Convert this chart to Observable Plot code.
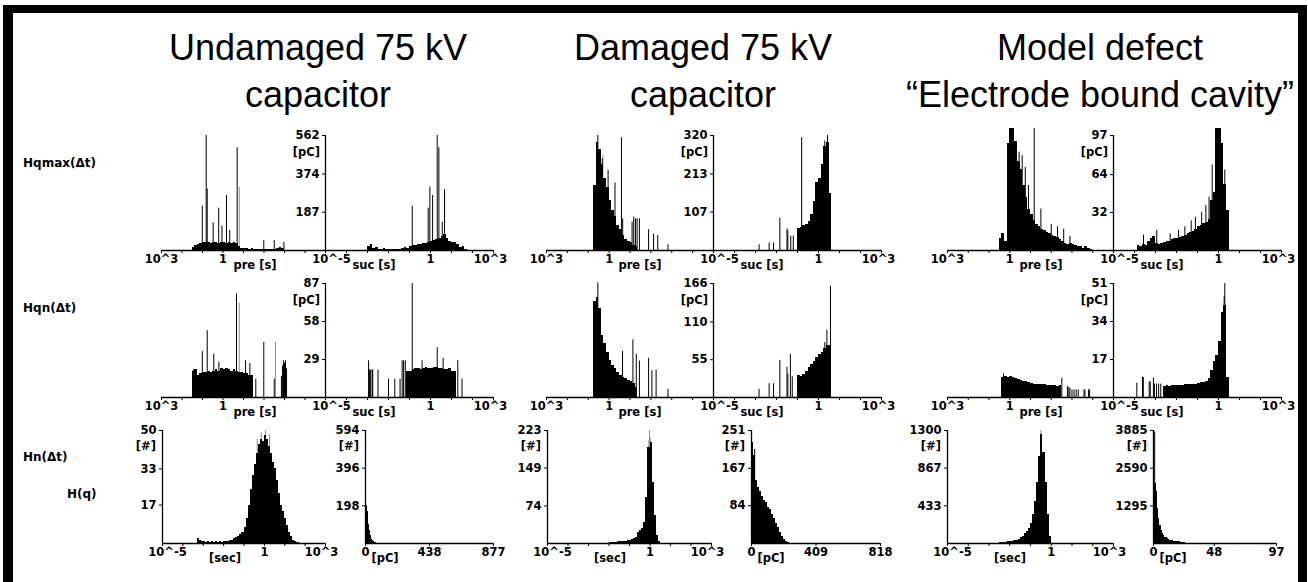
<!DOCTYPE html>
<html><head><meta charset="utf-8">
<script src="https://cdn.jsdelivr.net/npm/d3@7"></script>
<script src="https://cdn.jsdelivr.net/npm/@observablehq/plot@0.6"></script>
<style>
html,body{margin:0;padding:0;background:#fff;}
#root{position:relative;width:1308px;height:582px;overflow:hidden;background:#fff;}
.frame{position:absolute;left:3px;top:5px;width:1304px;height:640px;box-sizing:border-box;border-top:8px solid #000;border-left:10px solid #000;border-right:9px solid #000;}
.title{position:absolute;font-family:'Liberation Sans',Arial,sans-serif;font-size:36px;line-height:47px;text-align:center;color:#000;transform:translateX(-50%);white-space:nowrap;top:24px;}
.lbl{position:absolute;font-family:'DejaVu Sans',sans-serif;font-weight:bold;font-size:11.5px;color:#000;white-space:nowrap;line-height:13px;}
.rowlbl{font-size:12px;}
.c{transform:translate(-50%,-50%);}
.r{transform:translate(-100%,-50%);}
.l{transform:translate(0,-50%);}
</style></head>
<body><div id="root"><div class="frame"></div></div>
<script>
// ================= DATA =================
const columnTitles = [["Undamaged 75 kV", "capacitor"], ["Damaged 75 kV", "capacitor"], ["Model defect", "“Electrode bound cavity”"]];
const rowNames = ["Hqmax(Δt)", "Hqn(Δt)", "Hn(Δt)", "H(q)"];
const decades = [1e-5, 1e-4, 1e-3, 1e-2, 1e-1, 1, 1e1, 1e2, 1e3];
const LOGSTEP = 0.125;   // decades per bin, pre/suc histograms
const NSTEP = 0.1;       // decades per bin, Hn histograms

// ---- Undamaged 75 kV capacitor ----
const undQmaxTicks = [187, 374, 562];
const undQmaxPreStart = 1.5;
const undQmaxPre = [13, 25, 30, 35, 38, 40, 38, 36, 40, 38, 36, 40, 38, 35, 38, 36, 40, 35, 20, 12, 10, 8, 6, 8, 5, 4, 5, 4, 4, 3, 5, 4, 6, 10, 15, 8];
const undQmaxPreSpikes = [[1.01, 217], [0.82, 562], [0.77, 301], [0.48, 135], [0.21, 207], [0.05, 120], [-0.17, 269], [-0.33, 98], [-0.69, 502], [-1.99, 49], [-2.5, 49], [-2.97, 40]];
const undQmaxPreGray = [[-0.79, 310]];
const undQmaxSucStart = -3.0;
const undQmaxSuc = [20, 30, 10, 15, 5, 3, 8, 3, 5, 3, 5, 3, 4, 12, 15, 12, 20, 22, 25, 28, 30, 32, 35, 38, 45, 50, 55, 60, 70, 80, 60, 45, 40, 38, 30, 15, 20, 5];
const undQmaxSucSpikes = [[-0.87, 217], [-0.11, 207], [-0.03, 310], [0.1, 269], [0.32, 562], [0.4, 502], [0.56, 138], [0.67, 298]];

const undQnTicks = [29, 58, 87];
const undQnPreStart = 1.5;
const undQnPre = [20, 21, 17, 18, 19, 19, 20, 19, 20, 21, 20, 22, 21, 22, 21, 20, 21, 20, 19, 19, 18, 18, 17, 17];
const undQnPreSpikes = [[1.45, 21], [1.01, 35], [0.77, 51], [0.45, 33], [0.2, 27], [-0.66, 79], [-1.1, 28], [-1.31, 26], [-1.6, 14], [-1.99, 42], [-2.5, 14], [-2.85, 16], [-2.9, 24], [-2.95, 28], [-3.0, 26], [-3.05, 28], [-3.1, 22]];
const undQnPreGray = [[-0.79, 72], [-2.56, 42]];
const undQnSucStart = -1.125;
const undQnSuc = [20, 20, 21, 22, 22, 21, 22, 23, 22, 22, 23, 23, 22, 22, 21, 21, 22, 20, 20];
const undQnSucSpikes = [[-2.95, 28], [-2.9, 21], [-2.85, 21], [-2.78, 21], [-2.75, 21], [-2.5, 21], [-2.0, 14], [-1.7, 14], [-1.45, 14], [-1.35, 28], [-1.28, 28], [-1.2, 28], [-0.87, 87], [-0.4, 28], [0.32, 38], [0.6, 30], [1.3, 28], [1.5, 14]];

const undNTicks = [17, 33, 50];
const undNStart = -3.3;
const undN = [2, 1.5, 0.8, 1, 0.5, 1, 0.5, 1, 0.5, 0.8, 0.5, 1, 0.5, 1, 0.8, 1, 1.5, 1.5, 2, 2.5, 3, 4, 5, 7, 11, 17, 24, 30, 35, 40, 44, 46, 45, 48, 46, 43, 40, 36, 33, 28, 22, 17, 14, 11, 8, 5, 3, 1.5, 1, 0.5];
const undNGray = [[-0.15, 49], [0.05, 50], [0.25, 48], [-0.35, 46]];

const undQTicks = [198, 396, 594];
const undQAxis = [0, 438, 877];
const undQBin = 7;
const undQ = [270, 200, 170, 100, 70, 40, 23, 15, 9, 5, 3, 2];

// ---- Damaged 75 kV capacitor ----
const damQmaxTicks = [107, 213, 320];
const damQmaxPreStart = 0.75;
const damQmaxPre = [180, 300, 280, 240, 200, 176, 140, 110, 95, 70, 58, 42, 30, 25, 22, 15, 10];
const damQmaxPreSpikes = [[0.54, 320], [0.33, 255], [0.05, 223], [-0.28, 188], [-0.59, 314], [-0.65, 88], [-1.10, 79], [-1.18, 93], [-1.26, 88], [-1.34, 88], [-1.45, 88], [-1.89, 58], [-2.13, 46], [-2.33, 42], [-2.82, 16]];
const damQmaxPreGray = [[0.3, 265]];
const damQmaxSucStart = -1.0;
const damQmaxSuc = [60, 65, 70, 72, 80, 100, 135, 190, 200, 240, 290, 300, 160];
const damQmaxSucSpikes = [[-2.83, 16], [-2.35, 21], [-2.14, 21], [-1.84, 90], [-1.5, 60], [-1.46, 55], [-1.32, 40], [-1.2, 40], [-0.8, 314], [0.43, 320], [0.3, 305]];

const damQnTicks = [55, 110, 166];
const damQnPreStart = 0.75;
const damQnPre = [140, 145, 130, 90, 78, 65, 54, 47, 42, 36, 32, 29, 28, 25, 24, 20, 14];
const damQnPreSpikes = [[0.54, 167], [-0.64, 67], [-1.14, 84], [-1.3, 63], [-1.45, 53], [-1.89, 57], [-2.05, 39], [-2.25, 40], [-2.82, 12]];
const damQnSucStart = -1.0;
const damQnSuc = [32, 30, 34, 38, 44, 48, 53, 58, 62, 66, 72, 75, 76];
const damQnSucSpikes = [[-2.83, 12], [-2.35, 20], [-2.14, 20], [-1.84, 54], [-1.5, 44], [-1.46, 34], [-1.34, 63], [-1.25, 30], [-0.8, 22], [0.3, 80], [0.4, 98], [0.57, 162]];

const damNTicks = [74, 149, 223];
const damNStart = -2.0;
const damN = [2, 1, 2, 2, 3, 3, 4, 4, 4, 5, 6, 8, 10, 12, 22, 25, 30, 41, 90, 190, 200, 120, 55, 15, 3];
const damNGray = [[-0.02, 223], [0.03, 207], [-0.06, 203]];

const damQTicks = [84, 167, 251];
const damQAxis = [0, 409, 818];
const damQBin = 818 / 64;
const damQ = [225, 195, 140, 125, 115, 105, 95, 90, 80, 75, 65, 55, 45, 35, 25, 15, 8, 4, 2];
const damQSpikes = [[20, 209]];

// ---- Model defect "Electrode bound cavity" ----
const modQmaxTicks = [32, 64, 97];
const modQmaxPreStart = 0.5;
const modQmaxPre = [10, 14, 8, 90, 103, 103, 92, 75, 68, 55, 45, 35, 30, 25, 22, 20, 18, 17, 15, 14, 13, 12, 11, 9, 8, 6, 5, 6, 5, 4, 3, 3, 2, 3, 2, 1];
const modQmaxPreSpikes = [[-1.18, 103], [-0.45, 83], [-0.6, 80], [-0.75, 70], [-0.9, 55], [-1.5, 35], [-2.0, 22], [-2.3, 20], [-2.6, 18], [-2.9, 12]];
const modQmaxSucStart = -3.875;
const modQmaxSuc = [4, 3, 5, 4, 8, 10, 12, 6, 5, 6, 7, 8, 8, 9, 10, 10, 11, 12, 13, 14, 15, 16, 18, 20, 21, 23, 24, 26, 42, 49, 103, 103, 90, 56, 34];
const modQmaxSucSpikes = [[-3.57, 13], [-2.94, 17], [-2.3, 14], [-1.9, 17], [-1.6, 20], [-1.3, 25], [-1.1, 28], [-0.8, 32], [-0.6, 38], [-0.45, 45], [-0.3, 72], [0.3, 68]];

const modQnTicks = [17, 34, 51];
const modQnPreStart = 0.375;
const modQnPre = [9, 9.5, 9, 9.5, 9, 8.5, 8, 7.5, 7, 7, 6.5, 6.2, 6, 6, 5.8, 5.6, 5.8, 5.5, 5.5, 5.3, 5.5, 5, 5.5];
const modQnPreSpikes = [[-2.51, 8.6], [-2.78, 5], [-2.85, 4.5], [-2.9, 4], [-3.0, 3.4], [-3.1, 3.4], [-3.2, 3.4], [-3.3, 3.4], [-3.58, 3.4], [-3.62, 3.4], [-3.8, 3.4], [-3.85, 3.4], [0.3, 10.5]];
const modQnSucStart = -2.625;
const modQnSuc = [5, 5.2, 5, 5.2, 5.3, 5.3, 5.5, 5.5, 5.6, 5.7, 5.8, 6, 6, 6.2, 6.5, 6.5, 7.2, 8.5, 12, 16, 19, 25, 38, 41, 9];
const modQnSucSpikes = [[-3.89, 6.4], [-3.62, 9], [-3.58, 9], [-3.3, 7], [-3.25, 7], [-3.1, 8.7], [-3.05, 6], [-2.95, 6], [-2.85, 6], [-2.75, 6], [0.27, 45], [0.3, 51]];

const modNTicks = [433, 867, 1300];
const modNStart = -2.6;
const modN = [5, 8, 10, 12, 15, 18, 22, 26, 30, 38, 50, 65, 85, 110, 140, 170, 230, 330, 480, 700, 1000, 1250, 1050, 700, 330, 80];
const modNGray = [[-0.5, 1300], [-0.47, 1230]];

const modQTicks = [1295, 2590, 3885];
const modQAxis = [0, 48, 97];
const modQBin = 1;
const modQ = [0, 2050, 1800, 1200, 850, 620, 450, 330, 270, 220, 190, 160, 140, 120, 100, 90, 80, 70, 62, 58, 55, 50, 45, 40, 30];
const modQSpikes = [[0.9, 3830]];

// ================= BUILD =================
const root = document.getElementById("root");
const ML = 36, MR = 14, MT = 14, MB = 26;
const logFmt = v => v === 1 ? "1" : "10^" + Math.round(Math.log10(v));
const plain = d => String(d);

function logBins(start, heights, step, dir) {
  return heights.map((h, i) => {
    const a = start + dir * i * step, b = a + dir * step;
    return {x1: 10 ** Math.min(a, b), x2: 10 ** Math.max(a, b), y: h};
  });
}
function linBins(heights, w) {
  return heights.map((h, i) => ({x1: i * w, x2: (i + 1) * w, y: h}));
}
function html(cls, text, x, y) {
  const d = document.createElement("div");
  d.className = cls; d.textContent = text;
  d.style.left = x + "px"; d.style.top = y + "px";
  root.appendChild(d);
}

function panel({xl, xr, yt, yb, x, yMax, bins, spikes = [], grays = [], ticks, labels, yTicks, yAt, toX}) {
  const w = xr - xl + ML + MR, h = yb - yt + MT + MB;
  const marks = [
    Plot.ruleX(grays, {x: d => toX(d[0]), y1: 0, y2: d => d[1], stroke: "#8c8c8c", strokeWidth: 1}),
    Plot.rectY(bins, {x1: "x1", x2: "x2", y: "y", fill: "#000", inset: 0, shapeRendering: "crispEdges"}),
    Plot.ruleX(spikes, {x: d => toX(d[0]), y1: 0, y2: d => d[1], stroke: "#000", strokeWidth: 1}),
    Plot.ruleY([0], {stroke: "#000", strokeWidth: 1.3}),
    Plot.axisX({ticks, tickSize: 3, tickFormat: () => "", label: null}),
    ...labels.map(l => Plot.axisX({ticks: [l.v], tickSize: 0, tickPadding: 4, tickFormat: l.f || logFmt, dx: l.dx || 0, label: null}))
  ];
  if (yTicks) {
    marks.push(Plot.ruleX([yAt], {y1: 0, y2: yMax, stroke: "#000", strokeWidth: 1.3}));
    marks.push(Plot.axisY({ticks: yTicks, tickSize: 3, tickPadding: 3, tickFormat: plain, label: null, anchor: "left"}));
  }
  const svg = Plot.plot({
    width: w, height: h, marginLeft: ML, marginRight: MR, marginTop: MT, marginBottom: MB,
    x: {...x, label: null},
    y: yTicks ? {domain: [0, yMax], label: null} : {domain: [0, yMax], label: null, axis: null},
    style: {background: "transparent", color: "#000", fontFamily: "'DejaVu Sans', sans-serif", fontSize: "11.5px", fontWeight: "bold", overflow: "visible"},
    marks
  });
  const d = document.createElement("div");
  d.style.cssText = `position:absolute;left:${xl - ML}px;top:${yt - MT}px;width:${w}px;height:${h}px;`;
  d.appendChild(svg);
  root.appendChild(d);
}

const cols = [
  {pre: [161, 325], suc: [325, 493], hn: [162, 325], hq: [365, 493], tx: 318,
   qmax: [undQmaxTicks, undQmaxPreStart, undQmaxPre, undQmaxPreSpikes, undQmaxPreGray, undQmaxSucStart, undQmaxSuc, undQmaxSucSpikes],
   qn: [undQnTicks, undQnPreStart, undQnPre, undQnPreSpikes, undQnPreGray, undQnSucStart, undQnSuc, undQnSucSpikes],
   n: [undNTicks, undNStart, undN, [], undNGray], q: [undQTicks, undQAxis, undQBin, undQ, []]},
  {pre: [546, 713], suc: [713, 881], hn: [547, 711], hq: [751, 880], tx: 703,
   qmax: [damQmaxTicks, damQmaxPreStart, damQmaxPre, damQmaxPreSpikes, damQmaxPreGray, damQmaxSucStart, damQmaxSuc, damQmaxSucSpikes],
   qn: [damQnTicks, damQnPreStart, damQnPre, damQnPreSpikes, [], damQnSucStart, damQnSuc, damQnSucSpikes],
   n: [damNTicks, damNStart, damN, [], damNGray], q: [damQTicks, damQAxis, damQBin, damQ, damQSpikes]},
  {pre: [947, 1113], suc: [1113, 1281], hn: [947, 1113], hq: [1153, 1276], tx: 1100,
   qmax: [modQmaxTicks, modQmaxPreStart, modQmaxPre, modQmaxPreSpikes, [], modQmaxSucStart, modQmaxSuc, modQmaxSucSpikes],
   qn: [modQnTicks, modQnPreStart, modQnPre, modQnPreSpikes, [], modQnSucStart, modQnSuc, modQnSucSpikes],
   n: [modNTicks, modNStart, modN, [], modNGray], q: [modQTicks, modQAxis, modQBin, modQ, modQSpikes]}
];
const rows = [[135, 250], [283, 397], [430, 543]];
const pow = v => 10 ** v;

cols.forEach((c, ci) => {
  const t = document.createElement("div");
  t.className = "title"; t.style.left = c.tx + "px";
  t.innerHTML = columnTitles[ci][0] + "<br>" + columnTitles[ci][1];
  root.appendChild(t);

  [c.qmax, c.qn].forEach((p, ri) => {
    const [yTicks, preStart, pre, preSp, preGray, sucStart, suc, sucSp] = p;
    const [yt, yb] = rows[ri];
    const yMax = yTicks[yTicks.length - 1];
    panel({xl: c.pre[0], xr: c.pre[1], yt, yb, yMax, toX: pow,
      x: {type: "log", domain: [1e-5, 1e3], reverse: true},
      bins: logBins(preStart, pre, LOGSTEP, -1), spikes: preSp, grays: preGray,
      ticks: decades, labels: [{v: 1e3}, {v: 1}]});
    panel({xl: c.suc[0], xr: c.suc[1], yt, yb, yMax, toX: pow,
      x: {type: "log", domain: [1e-5, 1e3]},
      bins: logBins(sucStart, suc, LOGSTEP, 1), spikes: sucSp,
      ticks: decades, labels: [{v: 1e-5, dx: 6}, {v: 1}, {v: 1e3, dx: -3}],
      yTicks, yAt: 1e-5});
    html("lbl c", "pre [s]", c.pre[0] + 94, yb + 15);
    html("lbl c", "suc [s]", c.suc[0] + 49, yb + 15);
    html("lbl r", "[pC]", c.suc[0] - 5, yt + 17);
  });

  {
    const [yTicks, start, vals, sp, gray] = c.n;
    const [yt, yb] = rows[2];
    panel({xl: c.hn[0], xr: c.hn[1], yt, yb, yMax: yTicks[2], toX: pow,
      x: {type: "log", domain: [1e-5, 1e3]},
      bins: logBins(start, vals, NSTEP, 1), spikes: sp, grays: gray,
      ticks: decades, labels: [{v: 1e-5, dx: 5}, {v: 1}, {v: 1e3, dx: -4}],
      yTicks, yAt: 1e-5});
    html("lbl c", "[sec]", c.hn[0] + 63, yb + 15);
    html("lbl r", "[#]", c.hn[0] - 6, yt + 16);
  }
  {
    const [yTicks, axisVals, bw, vals, sp] = c.q;
    const [yt, yb] = rows[2];
    panel({xl: c.hq[0], xr: c.hq[1], yt, yb, yMax: yTicks[2], toX: v => v,
      x: {type: "linear", domain: [0, axisVals[2]]},
      bins: linBins(vals, bw), spikes: sp,
      ticks: axisVals, labels: axisVals.map(v => ({v, f: plain})),
      yTicks, yAt: 0});
    html("lbl c", "[pC]", c.hq[0] + 20, yb + 15);
    html("lbl r", "[#]", c.hq[0] - 6, yt + 16);
  }
});

html("lbl rowlbl l", rowNames[0], 23, 163);
html("lbl rowlbl l", rowNames[1], 23, 308);
html("lbl rowlbl l", rowNames[2], 23, 457);
html("lbl rowlbl l", rowNames[3], 67, 494);
</script></body></html>
